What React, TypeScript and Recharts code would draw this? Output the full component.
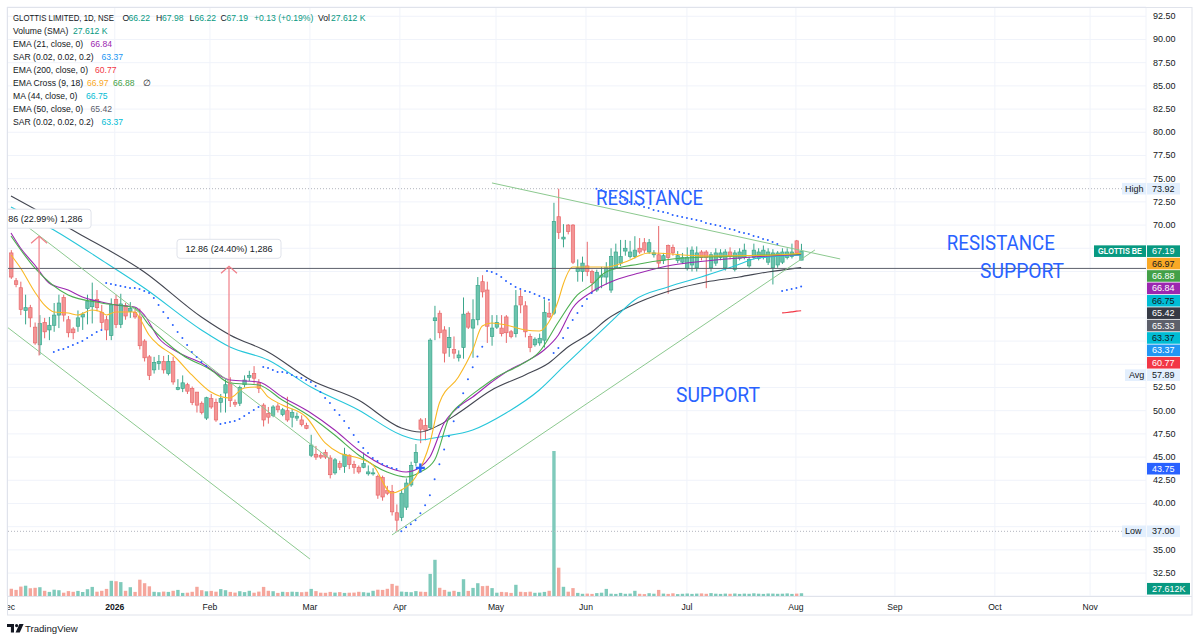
import React from 'react';
import {
  ComposedChart, Bar, Line, XAxis, YAxis, CartesianGrid, ReferenceLine, ReferenceDot, Rectangle,
} from 'recharts';

const FONT = '"Liberation Sans", Arial, sans-serif';

// ---------- candles (daily, Dec 2025 -> Aug 2026) ----------
const opens = [67.0, 64.0, 63.25, 60.8, 61.1, 59.0, 57.1, 59.5, 58.7, 59.2,
  60.3, 62.2, 59.8, 58.8, 59.1, 60.1, 61.0, 61.2, 62.0, 60.6,
  59.8, 58.1, 62.0, 59.3, 61.3, 60.7, 60.6, 60.1, 57.5, 55.8,
  54.4, 55.1, 55.3, 54.0, 55.3, 52.3, 52.4, 52.8, 52.4, 52.0,
  50.8, 49.2, 51.3, 50.9, 50.9, 51.9, 53.0, 50.9, 50.8, 52.8,
  53.6, 54.0, 53.0, 50.6, 49.7, 49.5, 50.5, 49.6, 50.0, 49.3,
  49.2, 49.0, 48.4, 45.2, 45.3, 45.2, 45.5, 44.9, 43.3, 44.3,
  44.0, 45.2, 44.2, 43.9, 43.9, 43.2, 43.2, 42.9, 42.8, 41.4,
  41.3, 39.0, 38.5, 39.6, 42.0, 44.4, 49.0, 48.4, 48.2, 59.7,
  60.5, 58.7, 56.8, 56.6, 55.7, 56.8, 60.5, 58.9, 59.8, 63.9,
  63.0, 58.0, 59.0, 58.9, 60.1, 58.5, 58.3, 62.3, 61.3, 58.0,
  57.1, 57.3, 57.6, 60.5, 60.5, 70.9, 68.5, 70.0, 70.0, 65.0,
  65.0, 65.6, 65.0, 63.0, 64.4, 64.4, 63.0, 65.4, 65.9, 67.2,
  66.6, 66.6, 67.5, 68.1, 67.1, 66.8, 66.8, 66.2, 67.8, 67.6,
  66.2, 66.0, 65.3, 65.7, 65.4, 67.1, 67.1, 65.4, 65.9, 66.5,
  65.4, 67.1, 65.2, 66.4, 66.5, 65.6, 66.5, 66.4, 66.5, 66.0,
  65.4, 65.7, 66.0, 66.5, 66.6, 68.3, 66.22];
const highs = [67.3, 64.3, 63.9, 62.5, 61.4, 59.5, 60.3, 60.0, 60.1, 61.6,
  62.5, 62.5, 60.2, 59.0, 60.8, 60.6, 62.5, 63.8, 63.0, 61.4,
  60.2, 62.1, 62.5, 62.6, 61.6, 61.7, 61.0, 61.0, 57.7, 56.0,
  55.8, 56.0, 55.9, 56.0, 55.8, 53.4, 53.8, 53.0, 52.6, 52.0,
  51.0, 51.5, 51.8, 51.3, 51.8, 53.4, 53.6, 51.2, 52.7, 53.8,
  54.3, 54.8, 53.4, 50.8, 50.4, 50.6, 50.8, 50.3, 51.5, 50.2,
  49.8, 49.5, 48.7, 47.4, 46.2, 45.5, 45.8, 45.2, 44.9, 44.6,
  46.0, 45.3, 44.6, 44.1, 45.5, 44.1, 43.8, 43.1, 43.0, 41.9,
  42.0, 39.9, 41.5, 42.7, 44.5, 46.4, 49.2, 49.2, 57.8, 61.3,
  60.8, 59.1, 59.0, 58.0, 56.5, 62.2, 60.7, 62.0, 64.4, 64.6,
  63.9, 60.3, 60.3, 60.3, 60.3, 58.7, 63.0, 63.0, 61.8, 58.3,
  57.9, 58.3, 62.0, 61.7, 72.4, 73.92, 70.1, 70.1, 70.1, 66.3,
  66.6, 68.2, 65.2, 65.2, 65.5, 66.0, 67.5, 68.0, 68.4, 68.4,
  68.3, 68.8, 68.6, 68.6, 68.5, 67.3, 69.9, 67.0, 67.9, 67.9,
  67.2, 67.0, 67.6, 67.7, 67.7, 67.3, 67.3, 67.1, 67.5, 67.4,
  67.4, 67.6, 67.3, 67.5, 68.0, 66.6, 68.0, 67.5, 67.8, 67.5,
  67.4, 67.2, 67.5, 67.5, 68.0, 68.4, 67.98];
const lows = [64.2, 63.3, 60.3, 59.3, 59.0, 57.1, 56.0, 57.8, 57.6, 58.5,
  58.9, 59.6, 57.9, 57.7, 58.5, 58.7, 59.3, 59.4, 60.7, 58.8,
  57.6, 57.6, 58.9, 58.9, 59.8, 60.0, 59.9, 56.6, 55.3, 53.3,
  54.0, 54.4, 54.0, 53.8, 52.8, 52.2, 52.0, 51.8, 50.6, 49.8,
  49.6, 49.0, 50.2, 48.8, 49.8, 49.8, 50.4, 50.4, 50.5, 52.5,
  53.2, 52.9, 51.9, 48.3, 48.6, 49.3, 49.8, 49.4, 48.8, 48.2,
  48.9, 48.3, 48.0, 45.0, 44.7, 44.8, 44.8, 42.7, 43.1, 43.6,
  43.3, 43.7, 43.2, 43.2, 43.8, 43.0, 43.0, 40.5, 40.3, 40.9,
  38.7, 37.0, 38.1, 39.3, 41.8, 44.0, 46.5, 46.8, 48.0, 57.6,
  57.8, 55.2, 55.8, 55.6, 55.3, 55.6, 58.8, 55.7, 59.2, 62.2,
  57.3, 57.0, 58.8, 58.0, 57.3, 57.8, 57.9, 60.5, 57.9, 56.3,
  56.9, 57.0, 56.8, 60.0, 60.3, 68.5, 67.6, 69.0, 65.8, 63.9,
  63.9, 64.5, 62.7, 62.8, 63.2, 63.6, 62.7, 65.3, 65.6, 66.7,
  66.4, 66.4, 66.9, 67.0, 66.9, 66.5, 65.3, 65.8, 62.6, 66.7,
  65.9, 65.8, 65.1, 65.0, 65.0, 66.2, 63.2, 65.0, 65.6, 66.2,
  65.1, 66.3, 65.0, 66.2, 66.3, 65.4, 66.3, 66.2, 66.3, 65.7,
  63.6, 65.4, 65.8, 66.3, 66.4, 66.8, 66.22];
const closes = [64.4, 63.6, 60.9, 61.1, 60.0, 57.3, 59.4, 58.5, 59.2, 60.3,
  61.6, 60.3, 58.4, 58.4, 60.0, 60.4, 61.8, 61.9, 61.1, 59.5,
  58.7, 61.4, 59.3, 61.5, 60.2, 61.0, 60.1, 57.0, 55.7, 53.8,
  55.2, 55.3, 54.4, 55.3, 53.1, 52.5, 53.0, 52.1, 50.9, 50.6,
  49.8, 51.4, 50.4, 49.0, 51.3, 52.8, 51.1, 50.7, 52.5, 53.3,
  53.8, 53.5, 52.4, 49.0, 49.3, 50.4, 50.1, 50.1, 49.0, 49.8,
  49.4, 48.5, 48.1, 46.3, 45.0, 45.0, 45.0, 43.1, 44.7, 43.9,
  45.3, 44.2, 43.9, 43.4, 44.3, 43.4, 43.3, 40.9, 40.7, 41.1,
  39.1, 38.2, 41.1, 42.2, 44.1, 45.5, 48.0, 47.9, 57.6, 60.0,
  58.4, 56.2, 57.9, 56.2, 56.0, 60.4, 59.0, 59.8, 63.5, 62.8,
  59.1, 58.9, 59.5, 58.3, 58.4, 58.0, 61.3, 61.4, 58.5, 56.8,
  57.7, 57.8, 60.6, 60.1, 70.4, 69.2, 68.7, 69.3, 66.0, 65.4,
  65.9, 65.0, 63.8, 64.9, 64.6, 65.4, 66.6, 67.1, 66.6, 67.5,
  67.1, 67.3, 67.1, 67.3, 68.1, 67.0, 65.9, 66.7, 66.5, 67.0,
  66.7, 66.5, 66.5, 67.3, 67.0, 66.5, 66.5, 66.8, 67.0, 67.0,
  67.1, 66.6, 67.0, 67.1, 67.3, 66.3, 67.3, 67.1, 67.3, 67.1,
  67.0, 67.0, 67.1, 67.1, 67.1, 67.0, 67.19];
const volumesK = [72, 61, 94, 103, 78, 82, 88, 52, 41, 63, 58, 33, 49, 42, 51, 40, 68, 91, 43, 52, 71, 152,
  148, 139, 52, 88, 41, 163, 128, 97, 42, 38, 44, 41, 52, 61, 31, 33, 42, 92, 58, 47, 51, 43,
  69, 58, 41, 34, 48, 39, 52, 33, 44, 91, 52, 48, 31, 42, 39, 43, 41, 38, 42, 71, 49, 33,
  32, 41, 34, 39, 31, 33, 34, 42, 38, 33, 52, 63, 61, 72, 121, 103, 44, 41, 38, 49, 43, 41,
  221, 362, 82, 61, 43, 52, 41, 168, 51, 81, 128, 99, 102, 79, 33, 41, 38, 31, 112, 42, 39, 43,
  32, 34, 41, 52, 1450, 283, 92, 43, 79, 31, 22, 24, 21, 29, 33, 71, 23, 21, 31, 22, 24, 52,
  22, 19, 28, 23, 61, 24, 21, 27, 19, 22, 25, 21, 24, 26, 22, 29, 23, 21, 24, 22, 25, 21,
  24, 22, 27, 23, 21, 25, 24, 22, 23, 26, 21, 24, 27.612];

// ---------- axes ----------
const X_MIN = -0.84;
const X_MAX = 238.45;
const monthTicks = [-0.74, 21.8, 41.8, 62.8, 81.7, 101.9, 120.8, 142.0, 164.9, 185.7, 206.7, 226.7];
const monthLabels = ['Dec', '2026', 'Feb', 'Mar', 'Apr', 'May', 'Jun', 'Jul', 'Aug', 'Sep', 'Oct', 'Nov'];
const priceTicks = [32.5, 35, 37.5, 40, 42.5, 45, 47.5, 50, 52.5, 55, 57.5, 60, 62.5, 65, 67.5, 70, 72.5, 75, 77.5, 80, 82.5, 85, 87.5, 90, 92.5];
const hiddenPriceTicks = [37.5, 55, 57.5, 60, 62.5, 65, 67.5];

// ---------- indicator lines: [bar index, value] ----------
const ema9Pts: [number, number][] = [[0, 66.78], [2, 65.38], [5, 62.79], [7, 61.39], [9, 60.64], [12, 60.53], [14, 60.31], [17, 60.85], [19, 60.64], [20, 60.31], [22, 60.64], [26, 60.64], [27, 59.99], [29, 58.16], [31, 57.08], [34, 56.0], [38, 53.85], [42, 52.01], [46, 51.37], [49, 52.44], [52, 52.55], [54, 51.48], [57, 50.61], [62, 49.32], [66, 46.52], [69, 45.44], [73, 44.9], [76, 44.15], [80, 41.13], [82, 41.45], [85, 42.86], [88, 46.52], [90, 50.83], [94, 53.63], [97, 56.54], [99, 59.13], [101, 59.45], [104, 59.23], [108, 58.7], [111, 58.59], [113, 59.56], [115, 61.9], [116, 63.6], [118, 65.48], [125, 65.48], [129, 66.02], [134, 66.99], [146, 66.67], [160, 66.78], [166, 66.97]];
const ema18Pts: [number, number][] = [[0, 68.83], [5, 65.38], [12, 62.47], [19, 61.61], [26, 61.07], [29, 59.23], [36, 56.0], [42, 54.39], [46, 52.98], [52, 52.77], [57, 51.15], [63, 49.32], [68, 47.38], [73, 45.23], [79, 43.39], [83, 42.86], [86, 43.39], [89, 44.69], [92, 49.21], [95, 50.94], [99, 52.55], [102, 53.63], [107, 54.92], [111, 56.33], [115, 59.56], [119, 62.47], [122, 63.55], [125, 64.95], [132, 65.81], [139, 66.35], [146, 66.56], [153, 66.67], [159, 66.78], [166, 66.88]];
const ema21Pts: [number, number][] = [[0, 69.15], [2, 67.53], [5, 65.7], [8, 63.76], [12, 63.01], [15, 62.26], [19, 61.71], [22, 61.39], [26, 61.17], [28, 60.31], [31, 57.83], [35, 56.33], [40, 55.14], [46, 53.31], [52, 53.09], [57, 51.48], [63, 49.75], [68, 47.92], [73, 45.76], [79, 43.93], [83, 43.39], [86, 43.93], [88, 45.01], [91, 48.67], [94, 50.4], [97, 51.48], [101, 53.09], [104, 54.17], [108, 55.25], [112, 56.54], [115, 58.16], [118, 61.07], [122, 62.79], [127, 64.08], [132, 64.84], [139, 65.7], [146, 66.13], [153, 66.45], [159, 66.67], [166, 66.84]];
const ma44Pts: [number, number][] = [[0, 71.95], [9, 69.47], [19, 66.24], [28, 63.22], [40, 58.7], [46, 56.86], [54, 55.46], [63, 52.55], [73, 50.08], [82, 47.38], [86, 46.84], [90, 47.17], [97, 47.92], [104, 49.75], [111, 52.23], [116, 54.71], [122, 57.62], [126, 59.56], [131, 61.93], [138, 63.33], [145, 64.41], [152, 65.59], [157, 66.45], [166, 66.75]];
const ema50Pts: [number, number][] = [[0, 73.13], [14, 69.15], [28, 64.95], [40, 60.1], [46, 58.16], [54, 56.33], [63, 53.31], [73, 51.15], [82, 48.14], [86, 47.71], [90, 48.46], [94, 49.75], [101, 52.23], [108, 53.85], [113, 55.14], [117, 56.86], [122, 58.48], [125, 59.77], [132, 61.71], [139, 63.01], [146, 63.87], [153, 64.41], [159, 64.95], [166, 65.42]];
const ema200Pts: [number, number][] = [[162, 60.53], [163, 60.58], [164, 60.64], [165, 60.72], [166, 60.77]];

// Parabolic SAR dots: [first bar index, values]
const sarSegments: [number, number[]][] = [
  [9, [56.33, 56.54, 56.65, 56.86, 57.08, 57.29, 57.51, 57.83, 58.15, 58.48, 58.69]],
  [20, [63.76, 63.65, 63.54, 63.44, 63.33, 63.22, 63.22, 63.11, 62.9, 62.68, 62.15, 61.39, 60.64, 59.99, 59.24, 58.48, 57.83, 57.08, 56.33, 55.79, 55.25, 54.82]],
  [44, [48.57, 48.68, 48.78, 48.89, 49.11, 49.43, 49.76, 50.08, 50.4]],
  [53, [54.71, 54.6, 54.39, 54.17, 54.17, 54.06, 53.84, 53.63, 53.52, 53.3, 53.09, 52.66, 52.01, 51.37, 50.83, 50.08, 49.54, 48.89, 48.14, 47.38, 46.63, 45.99, 45.45, 44.91, 44.59, 44.26, 44.05, 43.83, 43.72]],
  [82, [37.0, 37.43, 37.75, 38.18, 38.94, 39.8, 40.88, 42.6, 44.22, 45.83, 47.24, 48.85, 50.36, 51.87, 53.38, 54.67, 55.85, 56.9]],
  [100, [65.05, 64.95, 64.73, 64.41, 63.98, 63.66, 63.33, 63.12, 62.9, 62.79, 62.58, 62.36, 62.15, 61.95]],
  [114, [56.22, 56.76, 57.83, 58.91, 59.77, 60.52, 61.28, 62.03, 62.68]],
  [123, [73.92, 73.79, 73.57, 73.36, 73.14, 72.93, 72.71, 72.5, 72.28, 72.17, 71.96, 71.85, 71.63, 71.52, 71.41, 71.31, 71.09, 70.98, 70.87, 70.77, 70.66, 70.55, 70.44, 70.23, 70.12, 70.01, 69.9, 69.69, 69.58, 69.47, 69.26, 69.15, 69.04, 68.82, 68.72, 68.5, 68.39, 68.18, 67.96]],
  [162, [62.9, 63.01, 63.12, 63.22, 63.37]],
];

// ---------- drawings ----------
const trendChannelLow = [[-0.84, 59.02], [62.8, 34.02]];
const trendChannelHigh = [[-0.84, 71.52], [67.0, 44.8]];
const trendResistance = [[101.05, 74.54], [174.2, 66.35]];
const trendSupport = [[80.04, 36.61], [168.9, 67.32]];
const horizontalLevel = 65.33;
const highPrice = 73.92;
const lowPrice = 37.0;
const measureA = { i: 5.9, from: 55.94, to: 68.8, text: '12.86 (22.99%) 1,286' };
const measureB = { i: 45.8, from: 52.7, to: 65.56, text: '12.86 (24.40%) 1,286' };
const crossMarker = { i: 86, p: 43.83 };
const notes = [
  { text: 'RESISTANCE', i: 122.9, p: 72.15, len: 107 },
  { text: 'SUPPORT', i: 139.7, p: 50.9, len: 84 },
  { text: 'RESISTANCE', i: 196.6, p: 67.35, len: 108 },
  { text: 'SUPPORT', i: 203.6, p: 64.25, len: 84 },
];

// right-axis stacked value labels
const stackValues = ['67.19', '66.97', '66.88', '66.84', '66.75', '65.42', '65.33', '63.37', '63.37', '60.77', '57.89'];
const stackBg = ['#089981', '#f9a825', '#43a047', '#9c27b0', '#00bcd4', '#363a45', '#5d606b', '#00bcd4', '#2196f3', '#f23645', '#e3effd'];
const stackFg = ['#ffffff', '#131722', '#ffffff', '#ffffff', '#131722', '#ffffff', '#ffffff', '#131722', '#ffffff', '#ffffff', '#131722'];

function buildSparse(pts: [number, number][]) {
  const m: Record<number, number> = {};
  pts.forEach(([i, v]) => { m[i] = v; });
  return m;
}

const rows = (() => {
  const e9 = buildSparse(ema9Pts), e18 = buildSparse(ema18Pts), e21 = buildSparse(ema21Pts);
  const m44 = buildSparse(ma44Pts), e50 = buildSparse(ema50Pts), e200 = buildSparse(ema200Pts);
  const sar: Record<number, number> = {};
  sarSegments.forEach(([s, vals]) => vals.forEach((v, k) => { sar[s + k] = v; }));
  return opens.map((o, i) => ({
    i,
    o,
    c: closes[i],
    hl: [lows[i], highs[i]],
    vol: volumesK[i],
    ema9: e9[i] ?? null,
    ema18: e18[i] ?? null,
    ema21: e21[i] ?? null,
    ma44: m44[i] ?? null,
    ema50: e50[i] ?? null,
    ema200: e200[i] ?? null,
    sar: sar[i] ?? null,
  }));
})();

const UP_FILL = '#6cc4ae';
const UP_LINE = '#3aa68b';
const DN_FILL = '#f39595';
const DN_LINE = '#e8686b';

const Candle = (props: any) => {
  const { x, y, width, height, payload } = props;
  if (x == null || y == null || !payload) return <g />;
  const lo = payload.hl[0];
  const hi = payload.hl[1];
  const top = Math.min(y, y + height);
  const h = Math.abs(height);
  const toY = (v: number) => (hi === lo ? top : top + ((hi - v) / (hi - lo)) * h);
  const cx = x + width / 2;
  const up = payload.c >= payload.o;
  const yo = toY(payload.o);
  const yc = toY(payload.c);
  const bt = Math.min(yo, yc);
  const bh = Math.max(1, Math.abs(yo - yc));
  const line = up ? UP_LINE : DN_LINE;
  return (
    <g>
      <line x1={cx} x2={cx} y1={top} y2={top + h} stroke={line} strokeWidth={1} />
      <rect x={cx - 1.7} y={bt} width={3.4} height={bh} fill={up ? UP_FILL : DN_FILL} stroke={line} strokeWidth={0.7} />
    </g>
  );
};

const VolBar = (props: any) => {
  const { x, y, width, height, payload } = props;
  if (x == null || !payload) return <g />;
  const up = payload.c >= payload.o;
  return <Rectangle x={x} y={y} width={width} height={height} fill={up ? '#7fcabb' : '#f5a69c'} />;
};

const sarDot = (p: any) => {
  const k = p.index;
  if (p.value == null || p.cy == null || Number.isNaN(p.cy)) return <g key={`s${k}`} />;
  return <circle key={`s${k}`} cx={p.cx} cy={p.cy} r={1.0} fill="#2962ff" />;
};

const XTick = (props: any) => {
  const { x, payload } = props;
  const idx = monthTicks.indexOf(payload.value);
  const label = monthLabels[idx] ?? '';
  return (
    <g>
      <defs>
        <clipPath id={`xclip${idx}`}>
          <rect x={7} y={596} width={1140} height={20} />
        </clipPath>
      </defs>
      <text x={x} y={606.5} textAnchor="middle" dominantBaseline="central" fontSize={8.6}
        fontWeight={label === '2026' ? 700 : 400} fill="#131722" fontFamily={FONT} clipPath={`url(#xclip${idx})`}>
        {label}
      </text>
    </g>
  );
};

const YTick = (props: any) => {
  const { y, payload } = props;
  if (hiddenPriceTicks.includes(payload.value)) return <g />;
  return (
    <text x={1153} y={y} dominantBaseline="central" fontSize={9} fill="#131722" fontFamily={FONT}>
      {Number(payload.value).toFixed(2)}
    </text>
  );
};

const StackLabels = (props: any) => {
  const { cx, cy } = props;
  if (cx == null || cy == null) return <g />;
  const right = cx + 1;
  return (
    <g fontFamily={FONT} fontSize={9}>
      <rect x={right - 53} y={cy - 5.8} width={52} height={11.6} fill="#089981" />
      <text x={right - 49} y={cy} dominantBaseline="central" fill="#ffffff" fontWeight={700} fontSize={8.4}
        textLength={44} lengthAdjust="spacingAndGlyphs">GLOTTIS BE</text>
      {stackValues.map((t, k) => {
        const yy = cy + k * 12.4;
        return (
          <g key={k}>
            <rect x={right} y={yy - 5.8} width={33} height={11.6} fill={stackBg[k]} />
            <text x={right + 5} y={yy} dominantBaseline="central" fill={stackFg[k]}>{t}</text>
          </g>
        );
      })}
      <rect x={right - 22} y={cy + 10 * 12.4 - 5.8} width={21} height={11.6} fill="#e3effd" />
      <text x={right - 18} y={cy + 10 * 12.4} dominantBaseline="central" fill="#131722">Avg</text>
    </g>
  );
};

const makeTagLabel = (name: string, value: string) => (props: any) => {
  const { cx, cy } = props;
  if (cx == null || cy == null) return <g />;
  const right = cx + 1;
  return (
    <g fontFamily={FONT} fontSize={9}>
      <rect x={right - 25} y={cy - 5.8} width={24} height={11.6} fill="#e3effd" />
      <text x={right - 22} y={cy} dominantBaseline="central" fill="#131722">{name}</text>
      <rect x={right} y={cy - 5.8} width={33} height={11.6} fill="#e3effd" />
      <text x={right + 5} y={cy} dominantBaseline="central" fill="#131722">{value}</text>
    </g>
  );
};

const SingleTag = (bg: string, value: string, w: number, dy: number) => (props: any) => {
  const { cx, cy } = props;
  if (cx == null || cy == null) return <g />;
  const right = cx + 1;
  return (
    <g fontFamily={FONT} fontSize={9}>
      <rect x={right} y={cy + dy - 5.8} width={w} height={11.6} fill={bg} />
      <text x={right + 5} y={cy + dy} dominantBaseline="central" fill="#ffffff">{value}</text>
    </g>
  );
};

const MeasureHead = (text: string, id: string) => (props: any) => {
  const { cx, cy } = props;
  if (cx == null || cy == null) return <g />;
  return (
    <g>
      <defs>
        <clipPath id={id}>
          <rect x={7} y={7} width={1139} height={589} />
        </clipPath>
      </defs>
      <polyline points={`${cx - 8},${cy + 7} ${cx},${cy} ${cx + 8},${cy + 7}`} fill="none" stroke="#f07f88" strokeWidth={1.2} />
      <g clipPath={`url(#${id})`}>
        <rect x={cx - 52} y={cy - 27} width={104} height={19} rx={3} fill="#ffffff" stroke="#e0e3eb" strokeWidth={1} />
        <text x={cx - 43.5} y={cy - 17.3} dominantBaseline="central" fontSize={9} fill="#131722" fontFamily={FONT}
          textLength={87} lengthAdjust="spacingAndGlyphs">{text}</text>
      </g>
    </g>
  );
};

const CrossShape = (props: any) => {
  const { cx, cy } = props;
  if (cx == null || cy == null) return <g />;
  return (
    <g stroke="#2962ff" strokeWidth={2.4}>
      <line x1={cx - 4.5} x2={cx + 4.5} y1={cy} y2={cy} />
      <line x1={cx} x2={cx} y1={cy - 4.5} y2={cy + 4.5} />
    </g>
  );
};

const NoteShape = (text: string, len: number) => (props: any) => {
  const { cx, cy } = props;
  if (cx == null || cy == null) return <g />;
  return (
    <text x={cx} y={cy} fontSize={19.5} fill="#2962ff" fontFamily='Roboto, "Liberation Sans", sans-serif'
      textLength={len} lengthAdjust="spacingAndGlyphs">{text}</text>
  );
};

const legendRows: { t: string; x: number; c: string; len?: number }[][] = [
  [
    { t: 'GLOTTIS LIMITED, 1D, NSE', x: 13, c: '#131722', len: 101 },
    { t: 'O', x: 122.5, c: '#131722' }, { t: '66.22', x: 128.5, c: '#089981' },
    { t: 'H', x: 156, c: '#131722' }, { t: '67.98', x: 162, c: '#089981' },
    { t: 'L', x: 189.5, c: '#131722' }, { t: '66.22', x: 194.5, c: '#089981' },
    { t: 'C', x: 220.5, c: '#131722' }, { t: '67.19', x: 226.5, c: '#089981' },
    { t: '+0.13 (+0.19%)', x: 254, c: '#089981' },
    { t: 'Vol', x: 318, c: '#131722' }, { t: '27.612 K', x: 331, c: '#089981' },
  ],
  [{ t: 'Volume (SMA)', x: 13, c: '#131722' }, { t: '27.612 K', x: 73, c: '#089981' }],
  [{ t: 'EMA (21, close, 0)', x: 13, c: '#131722' }, { t: '66.84', x: 90.5, c: '#9c27b0' }],
  [{ t: 'SAR (0.02, 0.02, 0.2)', x: 13, c: '#131722' }, { t: '63.37', x: 101.5, c: '#2196f3' }],
  [{ t: 'EMA (200, close, 0)', x: 13, c: '#131722' }, { t: '60.77', x: 95, c: '#f23645' }],
  [{ t: 'EMA Cross (9, 18)', x: 13, c: '#131722' }, { t: '66.97', x: 87, c: '#f9a825' }, { t: '66.88', x: 113, c: '#43a047' }, { t: '\u2205', x: 142.5, c: '#131722' }],
  [{ t: 'MA (44, close, 0)', x: 13, c: '#131722' }, { t: '66.75', x: 86, c: '#00bcd4' }],
  [{ t: 'EMA (50, close, 0)', x: 13, c: '#131722' }, { t: '65.42', x: 90.5, c: '#5d606b' }],
  [{ t: 'SAR (0.02, 0.02, 0.2)', x: 13, c: '#131722' }, { t: '63.37', x: 101.5, c: '#00bcd4' }],
];

export default function App() {
  return (
    <div style={{ position: 'absolute', left: 0, top: 0, width: 1200, height: 642, background: '#ffffff' }}>
      <ComposedChart width={1200} height={642} data={rows} margin={{ top: 7, right: 0, bottom: 26, left: 7 }}>
        <CartesianGrid xAxisId="x" yAxisId="price" stroke="#f0f3fa" strokeWidth={1} />
        <XAxis xAxisId="x" dataKey="i" type="number" domain={[X_MIN, X_MAX]} allowDataOverflow ticks={monthTicks}
          interval={0} height={20} axisLine={false} tickLine={false} tick={<XTick />} />
        <XAxis xAxisId="vx" dataKey="i" type="number" domain={[X_MIN, X_MAX]} allowDataOverflow hide />
        <YAxis yAxisId="price" orientation="right" type="number" width={54} domain={[30.03, 93.5]} allowDataOverflow
          ticks={priceTicks} interval={0} axisLine={false} tickLine={false} tick={<YTick />} />
        <YAxis yAxisId="vol" type="number" hide domain={[0, 5890]} allowDataOverflow />

        <Bar xAxisId="vx" yAxisId="vol" dataKey="vol" barSize={3.4} shape={<VolBar />} isAnimationActive={false} />
        <Bar xAxisId="x" yAxisId="price" dataKey="hl" barSize={3.4} shape={<Candle />} isAnimationActive={false} />

        <Line xAxisId="x" yAxisId="price" dataKey="ema50" type="monotone" stroke="#434651" strokeWidth={1.1} dot={false} activeDot={false} connectNulls isAnimationActive={false} />
        <Line xAxisId="x" yAxisId="price" dataKey="ma44" type="monotone" stroke="#26c6da" strokeWidth={1.1} dot={false} activeDot={false} connectNulls isAnimationActive={false} />
        <Line xAxisId="x" yAxisId="price" dataKey="ema21" type="monotone" stroke="#9c27b0" strokeWidth={1.1} dot={false} activeDot={false} connectNulls isAnimationActive={false} />
        <Line xAxisId="x" yAxisId="price" dataKey="ema18" type="monotone" stroke="#4caf50" strokeWidth={1.1} dot={false} activeDot={false} connectNulls isAnimationActive={false} />
        <Line xAxisId="x" yAxisId="price" dataKey="ema9" type="monotone" stroke="#f9b824" strokeWidth={1.1} dot={false} activeDot={false} connectNulls isAnimationActive={false} />
        <Line xAxisId="x" yAxisId="price" dataKey="ema200" type="monotone" stroke="#f23645" strokeWidth={1.2} dot={false} activeDot={false} connectNulls isAnimationActive={false} />
        <Line xAxisId="x" yAxisId="price" dataKey="sar" stroke="none" strokeWidth={0} dot={sarDot} activeDot={false} isAnimationActive={false} />

        <ReferenceLine xAxisId="x" yAxisId="price" y={horizontalLevel} stroke="#5d606b" strokeWidth={1} />
        <ReferenceLine xAxisId="x" yAxisId="price" y={highPrice} stroke="#b2b5be" strokeDasharray="1 2" />
        <ReferenceLine xAxisId="x" yAxisId="price" y={lowPrice} stroke="#b2b5be" strokeDasharray="1 2" />

        <ReferenceLine xAxisId="x" yAxisId="price" ifOverflow="visible" stroke="#8cc98f" strokeWidth={1}
          segment={[{ x: trendChannelLow[0][0], y: trendChannelLow[0][1] }, { x: trendChannelLow[1][0], y: trendChannelLow[1][1] }]} />
        <ReferenceLine xAxisId="x" yAxisId="price" ifOverflow="visible" stroke="#8cc98f" strokeWidth={1}
          segment={[{ x: trendChannelHigh[0][0], y: trendChannelHigh[0][1] }, { x: trendChannelHigh[1][0], y: trendChannelHigh[1][1] }]} />
        <ReferenceLine xAxisId="x" yAxisId="price" ifOverflow="visible" stroke="#8cc98f" strokeWidth={1}
          segment={[{ x: trendResistance[0][0], y: trendResistance[0][1] }, { x: trendResistance[1][0], y: trendResistance[1][1] }]} />
        <ReferenceLine xAxisId="x" yAxisId="price" ifOverflow="visible" stroke="#8cc98f" strokeWidth={1}
          segment={[{ x: trendSupport[0][0], y: trendSupport[0][1] }, { x: trendSupport[1][0], y: trendSupport[1][1] }]} />

        <ReferenceLine xAxisId="x" yAxisId="price" ifOverflow="visible" stroke="#f07f88" strokeWidth={1.2}
          segment={[{ x: measureA.i, y: measureA.from }, { x: measureA.i, y: measureA.to }]} />
        <ReferenceLine xAxisId="x" yAxisId="price" ifOverflow="visible" stroke="#f07f88" strokeWidth={1.2}
          segment={[{ x: measureB.i, y: measureB.from }, { x: measureB.i, y: measureB.to }]} />
        <ReferenceDot xAxisId="x" yAxisId="price" x={measureA.i} y={measureA.to} r={1} ifOverflow="visible" shape={MeasureHead(measureA.text, 'mclipA')} />
        <ReferenceDot xAxisId="x" yAxisId="price" x={measureB.i} y={measureB.to} r={1} ifOverflow="visible" shape={MeasureHead(measureB.text, 'mclipB')} />

        <ReferenceDot xAxisId="x" yAxisId="price" x={crossMarker.i} y={crossMarker.p} r={1} ifOverflow="visible" shape={CrossShape} />

        {notes.map((n, k) => (
          <ReferenceDot key={`n${k}`} xAxisId="x" yAxisId="price" x={n.i} y={n.p} r={1} ifOverflow="visible" shape={NoteShape(n.text, n.len)} />
        ))}

        <ReferenceDot xAxisId="x" yAxisId="price" x={X_MAX} y={67.19} r={1} ifOverflow="visible" shape={StackLabels} />
        <ReferenceDot xAxisId="x" yAxisId="price" x={X_MAX} y={highPrice} r={1} ifOverflow="visible" shape={makeTagLabel('High', '73.92')} />
        <ReferenceDot xAxisId="x" yAxisId="price" x={X_MAX} y={lowPrice} r={1} ifOverflow="visible" shape={makeTagLabel('Low', '37.00')} />
        <ReferenceDot xAxisId="x" yAxisId="price" x={X_MAX} y={43.75} r={1} ifOverflow="visible" shape={SingleTag('#2962ff', '43.75', 33, 0)} />
        <ReferenceDot xAxisId="vx" yAxisId="vol" x={X_MAX} y={27.612} r={1} ifOverflow="visible" shape={SingleTag('#089981', '27.612K', 43, -4.5)} />
      </ComposedChart>

      <svg width={1200} height={642} style={{ position: 'absolute', left: 0, top: 0, pointerEvents: 'none' }}>
        <rect x={7.5} y={7.5} width={1184.5} height={607.5} fill="none" stroke="#e0e3eb" />
        <line x1={7} x2={1192} y1={596.5} y2={596.5} stroke="#e0e3eb" />
        <g fontFamily={FONT} fontSize={8.6}>
          {legendRows.map((row, r) => (
            <g key={r}>
              {row.map((s, k) => (
                <text key={k} x={s.x} y={18.3 + r * 13} dominantBaseline="central" fill={s.c}
                  textLength={s.len} lengthAdjust={s.len ? 'spacingAndGlyphs' : undefined}>{s.t}</text>
              ))}
            </g>
          ))}
        </g>
        <g transform="translate(7,624)" fill="#131722">
          <path d="M0 0h7v8.5h-3.1v-5.4H0z" />
          <circle cx={9.6} cy={1.6} r={1.6} />
          <path d="M12.4 0h4.2l-3.8 8.5H8.6z" />
        </g>
        <text x={25} y={628.5} dominantBaseline="central" fontSize={9.6} fill="#131722" fontFamily={FONT}>TradingView</text>
      </svg>
    </div>
  );
}
